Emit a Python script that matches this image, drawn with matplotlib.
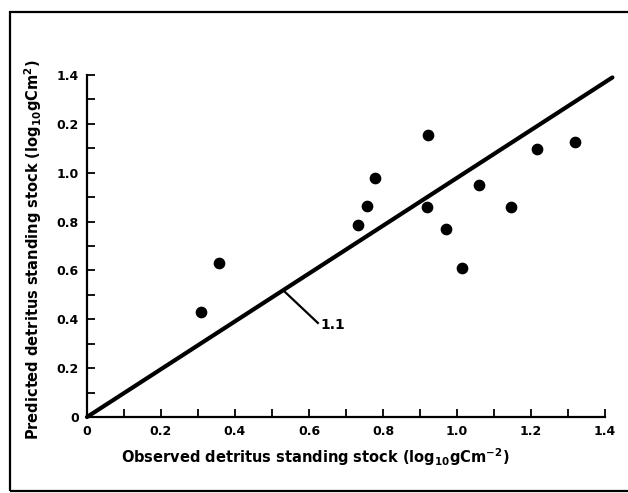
import matplotlib
matplotlib.use('Agg')
import matplotlib.pyplot as plt
from matplotlib.patches import Rectangle

plt.rcParams['font.family'] = ['DejaVu Sans']
plt.rcParams['font.weight'] = 'bold'
plt.rcParams['mathtext.default'] = 'bf'

# observed vs predicted detritus standing stock (log10 gC m-2)
observed = [0.307, 0.356, 0.732, 0.758, 0.778, 0.920, 0.922, 0.970,
            1.014, 1.060, 1.147, 1.217, 1.319]
predicted = [0.431, 0.629, 0.786, 0.862, 0.977, 0.861, 1.154, 0.768,
             0.610, 0.948, 0.860, 1.096, 1.124]

# 1:1 line end points
line_x = [0, 1.42]
line_y = [0, 1.39]

x_ticks = [0, 0.2, 0.4, 0.6, 0.8, 1.0, 1.2, 1.4]
x_ticklabels = ['0', '0.2', '0.4', '0.6', '0.8', '1.0', '1.2', '1.4']
y_ticks = [0, 0.2, 0.4, 0.6, 0.8, 1.0, 1.2, 1.4]
y_ticklabels = ['0', '0.2', '0.4', '0.6', '0.8', '1.0', '0.2', '1.4']
minor_ticks = [0.1, 0.3, 0.5, 0.7, 0.9, 1.1, 1.3]

fig = plt.figure(figsize=(6.28, 4.93), dpi=100)
ax = fig.add_axes([87 / 628, 76 / 493, 518 / 628, 342 / 493])

# outer frame (right side cut off in the scan)
fig.patches.append(Rectangle((10 / 628, 2 / 493), 1.2, 479 / 493,
                             transform=fig.transFigure, fill=False,
                             lw=1.6, ec='black'))

ax.plot(line_x, line_y, color='black', lw=3, solid_capstyle='round',
        clip_on=False, zorder=2)
ax.scatter(observed, predicted, s=55, color='black', zorder=3, clip_on=False)

# label for the 1:1 line
ax.plot([0.535, 0.624], [0.512, 0.385], color='black', lw=1.6)
ax.text(0.63, 0.377, '1.1', fontsize=10, fontweight='bold', va='center', ha='left')

ax.set_xlim(0, 1.4)
ax.set_ylim(0, 1.4)
ax.spines['top'].set_visible(False)
ax.spines['right'].set_visible(False)
ax.spines['left'].set_linewidth(1.6)
ax.spines['bottom'].set_linewidth(1.6)

ax.set_xticks(x_ticks)
ax.set_xticklabels(x_ticklabels)
ax.set_yticks(y_ticks)
ax.set_yticklabels(y_ticklabels)
ax.set_xticks(minor_ticks, minor=True)
ax.set_yticks(minor_ticks, minor=True)
ax.tick_params(which='both', direction='in', length=6, width=1.3,
               labelsize=9, pad=6)

ax.set_xlabel('Observed detritus standing stock (log$_{10}$gCm$^{-2}$)',
              fontsize=10.5, fontweight='bold')
ax.set_ylabel('Predicted detritus standing stock (log$_{10}$gCm$^{2}$)',
              fontsize=10.5, fontweight='bold')
ax.xaxis.set_label_coords(0.44, -0.085)
ax.yaxis.set_label_coords(-0.083, 0.49)

plt.savefig('out.png', dpi=100, facecolor='white')
plt.close()
